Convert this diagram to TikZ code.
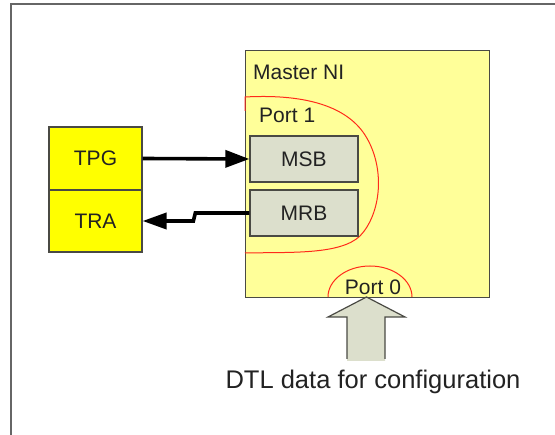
\documentclass[tikz,border=0pt]{standalone}
\usepackage{fontspec}
\setmainfont{Liberation Sans}
\usetikzlibrary{arrows.meta}
\definecolor{niyellow}{HTML}{FFFF99}
\definecolor{tyellow}{HTML}{FFFF00}
\definecolor{bufgray}{HTML}{DCDFCC}
\definecolor{edgegray}{HTML}{4A4A44}
\definecolor{txt}{HTML}{222222}
\definecolor{portred}{HTML}{FF2A1A}
\tikzset{
  lbl/.style={font=\fontsize{21}{24}\selectfont, text=txt, inner sep=0pt},
  bufbox/.style={draw=edgegray, line width=1.3pt, fill=bufgray, minimum width=108pt,
    minimum height=46pt, inner sep=0pt, font=\fontsize{21}{24}\selectfont, text=txt},
  tbox/.style={draw=edgegray, line width=1.1pt, fill=tyellow, minimum width=93pt,
    inner sep=0pt, font=\fontsize{21}{24}\selectfont, text=txt},
  link/.style={line width=3.6pt, black},
  porttrace/.style={portred, line width=1pt},
}
\begin{document}
\begin{tikzpicture}[x=1pt, y=-1pt]
\useasboundingbox (0,0) rectangle (555,435);
% outer frame
\draw[gray!80!black, line width=1.6pt] (11,435) -- (11,4) -- (555,4);

% master network interface
\node[draw=edgegray, line width=1.3pt, fill=niyellow, anchor=north west,
      minimum width=244pt, minimum height=247pt, inner sep=0pt] (ni) at (245,50) {};
\node[lbl, anchor=west] (nilabel) at (253,72) {Master NI};

% port 1 boundary
\draw[porttrace] (245,111) -- (245,97)
  .. controls (300,94) and (345,104) .. (365,135)
  .. controls (386,168) and (381,214) .. (360,236)
  .. controls (340,255) and (290,252) .. (245,253);
\node[lbl, anchor=west] (p1label) at (259,115) {Port 1};

% buffers
\node[bufbox] (msb) at (304,159) {MSB};
\node[bufbox] (mrb) at (304,213) {MRB};

% traffic generator / receiver
\node[tbox, minimum height=63pt] (tpg) at (95.5,158.5) {TPG};
\node[tbox, minimum height=62pt] (tra) at (95.5,221) {TRA};

% data links
\draw[link, -{Triangle[length=24pt, width=17pt]}] (tpg.east) -- (msb.west);
\draw[link, -{Triangle[length=24pt, width=16pt]}] (mrb.west) -- ++(-54pt,0)
  -- ++(-2pt,-8pt) -- (tra.east);

% port 0 boundary
\draw[porttrace] (328,297) arc[start angle=180, end angle=0, x radius=42pt, y radius=31pt];
\node[lbl] (p0label) at (373,287) {Port 0};

% configuration input arrow
\coordinate (tip) at (366.5,297);
\fill[bufgray] (tip) -- (405,317) -- (385,317) -- (385,361) -- (347,361)
  -- (347,317) -- (328,317) -- cycle;
\draw[edgegray, line width=1.2pt, line join=miter] (347,359) -- (347,317) -- (328,317)
  -- (tip) -- (405,317) -- (385,317) -- (385,359);
\node[font=\fontsize{25.5}{28}\selectfont, text=txt, inner sep=0pt] (dtl) at (373,382)
  {DTL data for configuration};
\end{tikzpicture}
\end{document}
